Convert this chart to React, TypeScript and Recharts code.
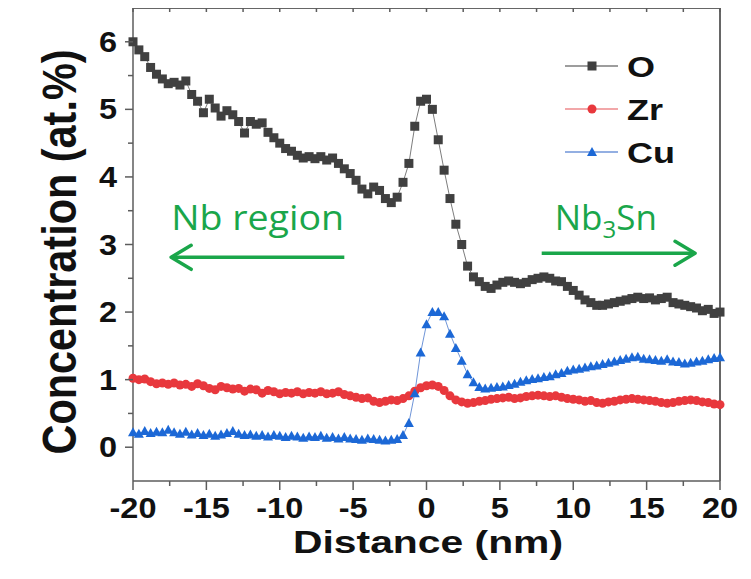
import React from 'react';
import { LineChart, Line, XAxis, YAxis, Legend, ReferenceLine } from 'recharts';

// distance along the line profile (nm)
const distance = [
	-20, -19.6, -19.2, -18.8, -18.4, -18, -17.6, -17.2, -16.8, -16.4,
	-16, -15.6, -15.2, -14.8, -14.4, -14, -13.6, -13.2, -12.8, -12.4,
	-12, -11.6, -11.2, -10.8, -10.4, -10, -9.6, -9.2, -8.8, -8.4,
	-8, -7.6, -7.2, -6.8, -6.4, -6, -5.6, -5.2, -4.8, -4.4,
	-4, -3.6, -3.2, -2.8, -2.4, -2, -1.6, -1.2, -0.8, -0.4,
	0, 0.4, 0.8, 1.2, 1.6, 2, 2.4, 2.8, 3.2, 3.6,
	4, 4.4, 4.8, 5.2, 5.6, 6, 6.4, 6.8, 7.2, 7.6,
	8, 8.4, 8.8, 9.2, 9.6, 10, 10.4, 10.8, 11.2, 11.6,
	12, 12.4, 12.8, 13.2, 13.6, 14, 14.4, 14.8, 15.2, 15.6,
	16, 16.4, 16.8, 17.2, 17.6, 18, 18.4, 18.8, 19.2, 19.6,
	20,
];

// concentrations (at.%)
const oxygen = [
	6.0, 5.88, 5.78, 5.62, 5.52, 5.45, 5.38, 5.4, 5.36, 5.42,
	5.22, 5.12, 4.95, 5.15, 5.02, 4.9, 4.98, 4.92, 4.82, 4.65,
	4.82, 4.78, 4.8, 4.66, 4.58, 4.5, 4.42, 4.38, 4.32, 4.28,
	4.3, 4.27, 4.3, 4.25, 4.28, 4.2, 4.12, 4.05, 3.95, 3.82,
	3.75, 3.85, 3.8, 3.68, 3.62, 3.7, 3.92, 4.2, 4.75, 5.12,
	5.15, 5.0, 4.55, 4.1, 3.68, 3.3, 3.0, 2.68, 2.52, 2.45,
	2.38, 2.35, 2.4, 2.44, 2.46, 2.44, 2.42, 2.44, 2.48, 2.5,
	2.52, 2.5, 2.46, 2.45, 2.38, 2.32, 2.25, 2.18, 2.14, 2.1,
	2.1, 2.12, 2.14, 2.16, 2.18, 2.2, 2.22, 2.2, 2.21, 2.18,
	2.2, 2.22, 2.14, 2.12, 2.1, 2.08, 2.06, 2.02, 2.04, 1.98,
	2.0,
];

const zirconium = [
	1.02, 1.0, 1.01, 0.97, 0.94, 0.95, 0.93, 0.95, 0.92, 0.93,
	0.9, 0.94, 0.91, 0.87, 0.85, 0.9, 0.88, 0.86, 0.87, 0.83,
	0.86, 0.85, 0.8, 0.84, 0.82, 0.79, 0.81, 0.8, 0.82, 0.79,
	0.81, 0.8, 0.82, 0.79, 0.8, 0.82, 0.78, 0.76, 0.74, 0.72,
	0.73, 0.68, 0.66, 0.68, 0.7, 0.69, 0.72, 0.76, 0.83, 0.88,
	0.91, 0.92, 0.9, 0.84, 0.76, 0.7, 0.67, 0.65, 0.66, 0.68,
	0.69, 0.71, 0.72, 0.73, 0.74, 0.72, 0.73, 0.75, 0.76, 0.77,
	0.76, 0.75, 0.76, 0.74, 0.72, 0.71, 0.7, 0.68, 0.69, 0.66,
	0.65, 0.67, 0.68, 0.7, 0.71, 0.72, 0.71, 0.7, 0.69, 0.68,
	0.66, 0.65, 0.66, 0.68, 0.69, 0.7, 0.69, 0.67, 0.66, 0.64,
	0.63,
];

const copper = [
	0.22, 0.2, 0.24, 0.21, 0.23, 0.22, 0.26, 0.22, 0.2, 0.23,
	0.19, 0.21, 0.18, 0.2, 0.17, 0.19, 0.21, 0.24, 0.2, 0.18,
	0.19, 0.17, 0.18, 0.16, 0.18, 0.17, 0.15, 0.17, 0.16, 0.14,
	0.16, 0.15, 0.17, 0.14, 0.15, 0.13, 0.15, 0.13, 0.12, 0.11,
	0.13, 0.12, 0.11, 0.1, 0.11, 0.12, 0.18, 0.36, 0.8, 1.4,
	1.82, 2.0, 2.0, 1.94, 1.68, 1.47, 1.28, 1.08, 0.96, 0.89,
	0.87, 0.88, 0.89, 0.9, 0.92, 0.94, 0.97, 0.99, 1.01, 1.02,
	1.04, 1.05, 1.08, 1.1, 1.13, 1.15, 1.16, 1.18, 1.2, 1.21,
	1.23, 1.25, 1.27, 1.29, 1.31, 1.33, 1.34, 1.31, 1.3, 1.29,
	1.28, 1.3, 1.27, 1.26, 1.24, 1.25, 1.27, 1.28, 1.3, 1.32,
	1.33,
];

const xMajor = [-20, -15, -10, -5, 0, 5, 10, 15, 20];
const xMinor = [-17.5, -12.5, -7.5, -2.5, 2.5, 7.5, 12.5, 17.5];
const yMajor = [0, 1, 2, 3, 4, 5, 6];
const yMinor = [0.5, 1.5, 2.5, 3.5, 4.5, 5.5];

const xTicks = [...xMajor, ...xMinor].sort((a, b) => a - b);
const yTicks = [...yMajor, ...yMinor].sort((a, b) => a - b);

const data = distance.map((d, i) => ({ d, o: oxygen[i], zr: zirconium[i], cu: copper[i] }));

const AXIS = '#5c5c5c';
const BOLD = '"Liberation Sans", Arial, sans-serif';
const GREEN = '#1aa64a';
const C_O = '#404040';
const C_ZR = '#e8383d';
const C_CU = '#1c68d6';

const series = [
	{ key: 'o', name: 'O', color: C_O, line: '#7d7d7d', shape: 'square' },
	{ key: 'zr', name: 'Zr', color: C_ZR, line: '#ee8a8c', shape: 'circle' },
	{ key: 'cu', name: 'Cu', color: C_CU, line: '#6f95d8', shape: 'triangle' },
];

const Marker = ({ cx, cy, shape, color }: any) => {
	if (cx == null || cy == null) return null;
	if (shape === 'square') return <rect x={cx - 4.5} y={cy - 4.5} width={9} height={9} fill={color} />;
	if (shape === 'circle') return <circle cx={cx} cy={cy} r={4.5} fill={color} />;
	return <polygon points={`${cx},${cy - 5} ${cx + 5},${cy + 4} ${cx - 5},${cy + 4}`} fill={color} />;
};

const BottomTick = ({ x, y, payload }: any) => {
	const major = xMajor.includes(payload.value);
	return (
		<g>
			<line x1={x} y1={y} x2={x} y2={y + (major ? 9 : 5)} stroke={AXIS} strokeWidth={1.5} />
			{major && (
				<text
					transform={`translate(${x},${y + 37}) scale(1.12,1)`}
					textAnchor="middle"
					fontFamily={BOLD}
					fontWeight="bold"
					fontSize={29}
					fill="#111"
				>
					{payload.value}
				</text>
			)}
		</g>
	);
};

const TopTick = ({ x, y }: any) => (
	<line x1={x} y1={y} x2={x} y2={y + 4} stroke={AXIS} strokeWidth={1.5} />
);

const LeftTick = ({ x, y, payload }: any) => {
	const major = yMajor.includes(payload.value);
	return (
		<g>
			<line x1={x} y1={y} x2={x - (major ? 8 : 5)} y2={y} stroke={AXIS} strokeWidth={1.5} />
			{major && (
				<text
					transform={`translate(${x - 16},${y + 10}) scale(1.12,1)`}
					textAnchor="end"
					fontFamily={BOLD}
					fontWeight="bold"
					fontSize={29}
					fill="#111"
				>
					{payload.value}
				</text>
			)}
		</g>
	);
};

const RightTick = ({ x, y, payload }: any) => {
	const major = yMajor.includes(payload.value);
	return <line x1={x} y1={y} x2={x - (major ? 8 : 5)} y2={y} stroke={AXIS} strokeWidth={1.5} />;
};

const XTitle = ({ viewBox }: any) => (
	<text
		x={viewBox.x + viewBox.width / 2 + 1.5}
		y={viewBox.y + 72}
		textAnchor="middle"
		fontFamily={BOLD}
		fontWeight="bold"
		fontSize={32}
		textLength={270}
		lengthAdjust="spacingAndGlyphs"
		fill="#111"
	>
		Distance (nm)
	</text>
);

const YTitle = () => (
	<text
		transform="translate(76,252) rotate(-90) scale(1,1.2)"
		textAnchor="middle"
		fontFamily={BOLD}
		fontWeight="bold"
		fontSize={40}
		textLength={405}
		lengthAdjust="spacingAndGlyphs"
		fill="#111"
	>
		Concentration (at.%)
	</text>
);

const Arrow = ({ x1, y1, x2, y2, text, dir }: any) => {
	const s = dir === 'left' ? 1 : -1;
	return (
		<g>
			<line x1={x1} y1={y1} x2={x2} y2={y2} stroke={GREEN} strokeWidth={3.5} />
			<polyline
				points={`${x2 + s * 20},${y2 - 12} ${x2},${y2} ${x2 + s * 20},${y2 + 12}`}
				fill="none"
				stroke={GREEN}
				strokeWidth={3.5}
				strokeLinecap="round"
				strokeLinejoin="round"
			/>
			{dir === 'left' ? (
				<text
					x={x2}
					y={y2 - 27}
					fontFamily='"Open Sans", sans-serif'
					fontSize={35}
					textLength={173}
					lengthAdjust="spacingAndGlyphs"
					fill={GREEN}
				>
					{text}
				</text>
			) : (
				<text x={x1 + 13} y={y1 - 23} fontFamily='"Open Sans", sans-serif' fontSize={35} fill={GREEN}>
					Nb
					<tspan dy={8} fontSize={24}>3</tspan>
					<tspan dy={-8}>Sn</tspan>
				</text>
			)}
		</g>
	);
};

// top and right sides of the box
const FrameEdge = ({ x1, y1, x2, y2 }: any) => <line x1={x1} y1={y1} x2={x2} y2={y2} stroke={AXIS} strokeWidth={1.5} />;

const LegendBox = () => (
	<svg width={140} height={130}>
		{series.map((s, i) => {
			const cy = 21 + i * 43;
			return (
				<g key={s.key}>
					<line x1={5} y1={cy} x2={58} y2={cy} stroke={s.line} strokeWidth={1.5} />
					<Marker cx={32} cy={cy} shape={s.shape} color={s.color} />
					<text
						transform={`translate(67,${cy + 11}) scale(1.2,1)`}
						fontFamily={BOLD}
						fontWeight="bold"
						fontSize={30}
						fill="#111"
					>
						{s.name}
					</text>
				</g>
			);
		})}
	</svg>
);

export default function App() {
	return (
		<div style={{ position: 'relative', width: 751, height: 579, margin: '-8px 0 -8px -8px', background: '#fff' }}>
			<LineChart width={751} height={579} data={data} margin={{ top: 8, right: 31, bottom: 0, left: 0 }}>
				<XAxis
					xAxisId="x"
					type="number"
					dataKey="d"
					domain={[-20, 20]}
					ticks={xTicks}
					interval={0}
					height={98}
					tickSize={0}
					tickMargin={0}
					tickLine={false}
					tick={<BottomTick />}
					axisLine={{ stroke: AXIS, strokeWidth: 1.5 }}
					label={<XTitle />}
				/>
				<XAxis
					xAxisId="top"
					orientation="top"
					mirror
					type="number"
					dataKey="d"
					domain={[-20, 20]}
					ticks={xTicks}
					interval={0}
					tickSize={0}
					tickMargin={0}
					tickLine={false}
					tick={<TopTick />}
					axisLine={{ stroke: AXIS, strokeWidth: 1.5 }}
				/>
				<YAxis
					yAxisId="y"
					type="number"
					domain={[-0.5, 6.5]}
					ticks={yTicks}
					interval={0}
					width={133}
					tickSize={0}
					tickMargin={0}
					tickLine={false}
					tick={<LeftTick />}
					axisLine={{ stroke: AXIS, strokeWidth: 1.5 }}
					label={<YTitle />}
				/>
				<YAxis
					yAxisId="right"
					orientation="right"
					mirror
					type="number"
					domain={[-0.5, 6.5]}
					ticks={yTicks}
					interval={0}
					tickSize={0}
					tickMargin={0}
					tickLine={false}
					tick={<RightTick />}
					axisLine={{ stroke: AXIS, strokeWidth: 1.5 }}
				/>
				<ReferenceLine xAxisId="x" yAxisId="y" y={6.5} ifOverflow="visible" shape={(p: any) => <FrameEdge {...p} />} />
				<ReferenceLine xAxisId="x" yAxisId="y" x={20} ifOverflow="visible" shape={(p: any) => <FrameEdge {...p} />} />
				<ReferenceLine
					xAxisId="x"
					yAxisId="y"
					segment={[{ x: -5.6, y: 2.81 }, { x: -17.4, y: 2.81 }]}
					ifOverflow="visible"
					shape={(p: any) => <Arrow {...p} dir="left" text="Nb region" />}
				/>
				<ReferenceLine
					xAxisId="x"
					yAxisId="y"
					segment={[{ x: 7.85, y: 2.87 }, { x: 18.3, y: 2.87 }]}
					ifOverflow="visible"
					shape={(p: any) => <Arrow {...p} dir="right" />}
				/>
				{series.map(s => (
					<Line
						key={s.key}
						xAxisId="x"
						yAxisId="y"
						dataKey={s.key}
						name={s.name}
						type="linear"
						stroke={s.line}
						strokeWidth={1}
						isAnimationActive={false}
						activeDot={false}
						dot={(p: any) => <Marker key={`${s.key}-${p.index}`} cx={p.cx} cy={p.cy} shape={s.shape} color={s.color} />}
					/>
				))}
				<Legend
					layout="vertical"
					align="center"
					verticalAlign="middle"
					wrapperStyle={{ top: 45, left: 560, width: 140 }}
					content={() => <LegendBox />}
				/>
			</LineChart>
		</div>
	);
}
